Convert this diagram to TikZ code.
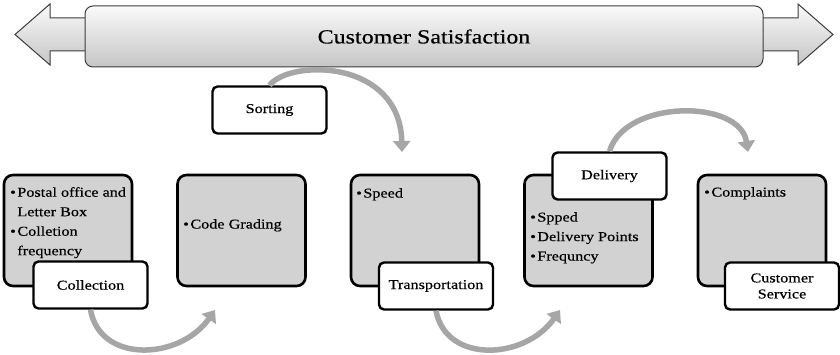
\documentclass[tikz,border=0pt]{standalone}
\usepackage{fontspec}
\setmainfont{Liberation Serif}[FakeStretch=1.2,FakeBold=0.5]
\usetikzlibrary{arrows.meta}
\definecolor{cardgray}{RGB}{210,210,210}
\definecolor{arcgray}{RGB}{166,166,166}
\definecolor{rim}{RGB}{60,60,60}
\newcommand{\bul}{\textbullet\hspace{1.5pt}}
\newcommand{\bulgap}{\phantom{\textbullet\hspace{1.5pt}}}

\begin{document}
\begin{tikzpicture}[x=1pt,y=1pt,
  card/.style={draw,line width=2.6pt,rounded corners=9pt,fill=cardgray,minimum width=128pt,minimum height=111pt},
  tag/.style={draw,line width=2.4pt,rounded corners=5pt,fill=white,minimum width=114pt,minimum height=47pt,align=center,font=\fontsize{13.5}{16}\selectfont},
  pts/.style={anchor=north west,inner sep=0pt,align=left,font=\fontsize{13.5}{19.5}\selectfont},
  flow/.style={draw=arcgray,line width=5.5pt,-{Triangle[width=17pt,length=11pt]}}]
\useasboundingbox (0,0) rectangle (840,354);
% banner
\draw[rim,line width=1pt,top color=white!96!gray,bottom color=gray!45] (15,319.5) -- (50,350) -- (50,336) -- (798,336) -- (798,350) -- (833,319.5) -- (798,289) -- (798,303) -- (50,303) -- (50,289) -- cycle;
\node[draw=rim,line width=1pt,rounded corners=8pt,top color=white!96!gray,bottom color=gray!45,minimum width=678pt,minimum height=61pt,font=\fontsize{20}{24}\selectfont] (sat) at (424,317.5) {Customer Satisfaction};
% steps
\node[card] (b1) at (68,123.5) {};
\node[card] (b2) at (241.5,123.5) {};
\node[card] (b3) at (415,123.5) {};
\node[card] (b4) at (588.5,123.5) {};
\node[card] (b5) at (762,123.5) {};
\node[pts] (t1) at (10,167) {\bul Postal office and\\\bulgap Letter Box\\\bul Colletion\\\bulgap frequency};
\node[pts] (t2) at (183,135) {\bul Code Grading};
\node[pts] (t3) at (356,166) {\bul Speed};
\node[pts] (t4) at (530,142) {\bul Spped\\\bul Delivery Points\\\bul Frequncy};
\node[pts] (t5) at (704,167) {\bul Complaints};
\node[tag] (col) at (90.5,69) {Collection};
\node[tag] (srt) at (269.5,244) {Sorting};
\node[tag] (trn) at (436,68) {Transportation};
\node[tag] (dlv) at (609.5,178) {Delivery};
\node[tag] (cs) at (782,68) {Customer\\Service};
% arcs
\coordinate (e1) at (215,44);\coordinate (e2) at (402,202);
\coordinate (e3) at (560,44);\coordinate (e4) at (748,202);
\draw[flow] (col.south) .. controls (100,-10) and (180,-6) .. (e1);
\draw[flow] (srt.north) .. controls (290,295) and (400,295) .. (e2);
\draw[flow] (trn.south) .. controls (446,-10) and (525,-6) .. (e3);
\draw[flow] (dlv.north) .. controls (625,255) and (740,255) .. (e4);
\end{tikzpicture}
\end{document}
